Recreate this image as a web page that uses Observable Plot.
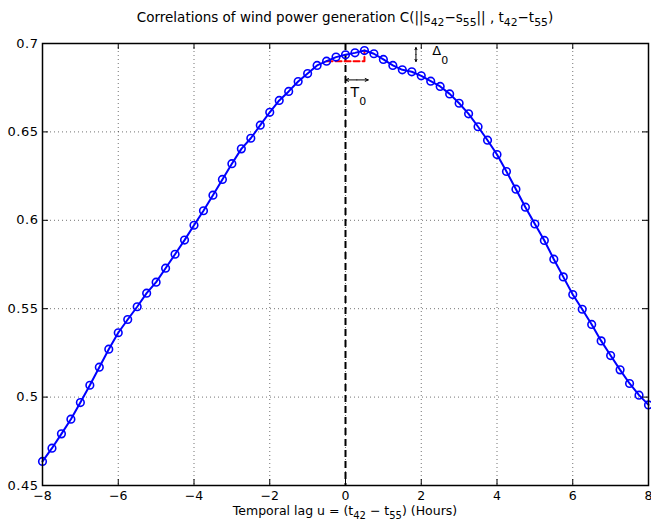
<!DOCTYPE html>
<html>
<head>
<meta charset="utf-8">
<script src="https://cdn.jsdelivr.net/npm/d3@7"></script>
<script src="https://cdn.jsdelivr.net/npm/@observablehq/plot@0.6"></script>
<style>
  html, body { margin: 0; padding: 0; background: #fff; }
  #wrap { position: relative; width: 651px; height: 524px; font-family: "DejaVu Sans", sans-serif; color: #000; }
  #title { position: absolute; left: 42px; width: 606px; top: 9px; text-align: center; font-size: 13.5px; line-height: 16px; white-space: nowrap; }
  #chart { position: absolute; left: 0; top: 32px; }
  #xlabel { position: absolute; left: 42px; width: 606px; top: 505px; text-align: center; font-size: 12.5px; line-height: 12px; white-space: nowrap; }
  sub { font-size: 0.8em; vertical-align: baseline; position: relative; top: 4px; }
  #chart svg g[aria-label="y-axis tick label"] text { letter-spacing: 0.5px; }
</style>
</head>
<body>
<div id="wrap">
  <div id="title">Correlations of wind power generation C(||s<sub>42</sub>−s<sub>55</sub>|| , t<sub>42</sub>−t<sub>55</sub>)</div>
  <div id="chart"></div>
  <div id="xlabel">Temporal lag u = (t<sub>42</sub> − t<sub>55</sub>) (Hours)</div>
</div>
<script>
// Temporal lags (hours)
const lags = [
  -8, -7.75, -7.5, -7.25, -7, -6.75, -6.5, -6.25, -6, -5.75, -5.5, -5.25, -5, -4.75, -4.5, -4.25,
  -4, -3.75, -3.5, -3.25, -3, -2.75, -2.5, -2.25, -2, -1.75, -1.5, -1.25, -1, -0.75, -0.5, -0.25,
  0, 0.25, 0.5, 0.75, 1, 1.25, 1.5, 1.75, 2, 2.25, 2.5, 2.75, 3, 3.25, 3.5, 3.75,
  4, 4.25, 4.5, 4.75, 5, 5.25, 5.5, 5.75, 6, 6.25, 6.5, 6.75, 7, 7.25, 7.5, 7.75, 8
];
// Correlation values
const correlations = [
  0.4636, 0.4711, 0.4792, 0.4875, 0.4969, 0.5067, 0.5169, 0.5271, 0.5364, 0.5439, 0.5511, 0.5588, 0.5650, 0.5729, 0.5808, 0.5888,
  0.5972, 0.6054, 0.6142, 0.6231, 0.6320, 0.6404, 0.6464, 0.6538, 0.6611, 0.6678, 0.6729, 0.6785, 0.6830, 0.6876, 0.6900, 0.6923,
  0.6936, 0.6947, 0.6960, 0.6942, 0.6910, 0.6876, 0.6851, 0.6840, 0.6817, 0.6787, 0.6757, 0.6715, 0.6662, 0.6602, 0.6529, 0.6453,
  0.6372, 0.6276, 0.6176, 0.6074, 0.5979, 0.5886, 0.5780, 0.5680, 0.5580, 0.5497, 0.5411, 0.5318, 0.5235, 0.5154, 0.5077, 0.5011, 0.4956
];
const xTicks = [-8, -6, -4, -2, 0, 2, 4, 6, 8];
const yTicks = [0.45, 0.5, 0.55, 0.6, 0.65, 0.7];
const xTickLabels = ["−8", "−6", "−4", "−2", "0", "2", "4", "6", "8"];
const yTickLabels = ["0.45", "0.5", "0.55", "0.6", "0.65", "0.7"];

// Annotation values (data units)
const peakBoxX = [-0.5, 0.5, 0.5];
const peakBoxY = [0.690, 0.690, 0.696];
const t0ArrowX = [0, 0.6];
const t0ArrowY = 0.6794;
const d0ArrowX = 1.86;
const d0ArrowY = [0.6898, 0.6977];
const t0Label = {x: 0.13, y: 0.6725, text: "T"};
const t0Sub = {x: 0.36, y: 0.6670, text: "0"};
const d0Label = {x: 2.29, y: 0.6958, text: "Δ"};
const d0Sub = {x: 2.53, y: 0.6906, text: "0"};

const data = lags.map((u, i) => ({u, c: correlations[i]}));
const box = peakBoxX.map((x, i) => ({x, y: peakBoxY[i]}));

const W = 651, H = 472, mL = 42, mR = 3, mT = 11, mB = 19;
const innerW = W - mL - mR, innerH = H - mT - mB;
const tick = 6;
const blue = "#0000ff";

const t0Mid = (t0ArrowX[0] + t0ArrowX[1]) / 2;
const d0Mid = (d0ArrowY[0] + d0ArrowY[1]) / 2;

const chart = Plot.plot({
  width: W, height: H,
  marginLeft: mL, marginRight: mR, marginTop: mT, marginBottom: mB,
  x: {domain: [-8, 8]},
  y: {domain: [0.45, 0.7]},
  style: {fontFamily: "DejaVu Sans, sans-serif", fontSize: "12px", background: "#fff", color: "#000", overflow: "visible"},
  marks: [
    Plot.gridX(xTicks, {stroke: "#000", strokeOpacity: 0.55, strokeDasharray: "1,3", strokeWidth: 1}),
    Plot.gridY(yTicks, {stroke: "#000", strokeOpacity: 0.55, strokeDasharray: "1,3", strokeWidth: 1}),
    Plot.ruleX([0], {stroke: "#000", strokeWidth: 2, strokeDasharray: "7,4"}),
    Plot.line(box, {x: "x", y: "y", stroke: "#ff0000", strokeWidth: 2, strokeDasharray: "6,3"}),
    Plot.line(data, {x: "u", y: "c", stroke: blue, strokeWidth: 2}),
    Plot.dot(data, {x: "u", y: "c", r: 3.8, stroke: blue, strokeWidth: 1.6, fill: "none"}),
    Plot.frame({stroke: "#000", strokeWidth: 1.5}),
    Plot.ruleX(xTicks, {stroke: "#000", strokeWidth: 1, insetTop: innerH - tick}),
    Plot.ruleX(xTicks, {stroke: "#000", strokeWidth: 1, insetBottom: innerH - tick}),
    Plot.ruleY(yTicks, {stroke: "#000", strokeWidth: 1, insetRight: innerW - tick}),
    Plot.ruleY(yTicks, {stroke: "#000", strokeWidth: 1, insetLeft: innerW - tick}),
    Plot.axisX(xTicks, {tickSize: 0, tickPadding: 6, tickFormat: (d) => xTickLabels[xTicks.indexOf(d)], fontSize: 12.5, label: null}),
    Plot.axisY(yTicks, {tickSize: 0, tickPadding: 4, tickFormat: (d) => yTickLabels[yTicks.indexOf(d)], fontSize: 13, label: null}),
    // T0 double arrow
    Plot.arrow([0, 1], {x1: () => t0Mid, y1: () => t0ArrowY, x2: (d) => t0ArrowX[d], y2: () => t0ArrowY, stroke: "#000", strokeWidth: 1, headLength: 5, headAngle: 50}),
    // Delta0 double arrow
    Plot.arrow([0, 1], {x1: () => d0ArrowX, y1: () => d0Mid, x2: () => d0ArrowX, y2: (d) => d0ArrowY[d], stroke: "#000", strokeWidth: 1, headLength: 4, headAngle: 50}),
    Plot.text([t0Label], {x: "x", y: "y", text: "text", fontSize: 14, textAnchor: "start", lineAnchor: "middle", fill: "#000"}),
    Plot.text([t0Sub], {x: "x", y: "y", text: "text", fontSize: 11, textAnchor: "start", lineAnchor: "middle", fill: "#000"}),
    Plot.text([d0Label], {x: "x", y: "y", text: "text", fontSize: 13, textAnchor: "start", lineAnchor: "middle", fill: "#000"}),
    Plot.text([d0Sub], {x: "x", y: "y", text: "text", fontSize: 11, textAnchor: "start", lineAnchor: "middle", fill: "#000"})
  ]
});
document.getElementById("chart").appendChild(chart);
</script>
</body>
</html>
